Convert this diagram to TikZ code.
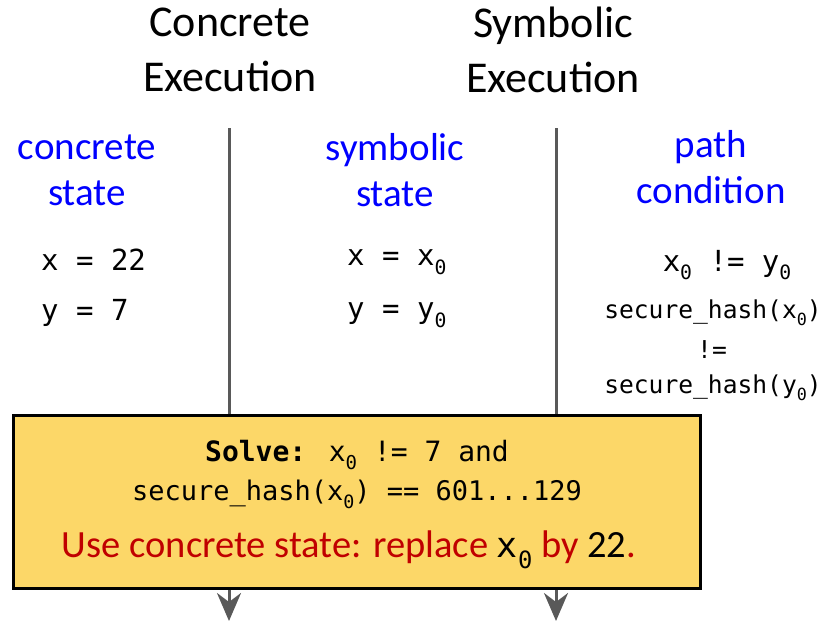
\documentclass[tikz,border=0pt]{standalone}
\usepackage{fontspec}
\setmainfont{Carlito}
\newfontfamily\monof{DejaVu Sans Mono}
\usetikzlibrary{arrows.meta}
\definecolor{gline}{HTML}{595959}
\definecolor{boxfill}{HTML}{FCD768}
\definecolor{redtxt}{HTML}{C00000}
\definecolor{bluetxt}{HTML}{0000FF}
\newcommand\zsub{\raisebox{-0.3em}{\scalebox{0.68}{0}}}
\tikzset{
  title/.style={font=\fontsize{44}{55}\selectfont, align=center, text=black, inner sep=0pt},
  lbl/.style={font=\fontsize{39}{46}\selectfont, align=center, text=bluetxt, inner sep=0pt},
  code/.style={font=\monof\fontsize{29}{34}\selectfont, inner sep=0pt, anchor=west},
  smallcode/.style={font=\monof\fontsize{24.6}{30}\selectfont, inner sep=0pt},
  flow/.style={draw=gline, line width=3pt, -{Stealth[length=28pt,width=24pt,inset=9pt]}},
  solvebox/.style={draw=black, line width=3pt, fill=boxfill, minimum width=687pt, minimum height=173pt, inner sep=0pt}
}
\begin{document}
\begin{tikzpicture}[x=1pt,y=-1pt]
\useasboundingbox (0,0) rectangle (830,622);
% titles
\node[title] (tc) at (230,50) {Concrete\\Execution};
\node[title] (ts) at (553,50) {Symbolic\\Execution};
% column labels
\node[lbl] (lc) at (87,170) {concrete\\state};
\node[lbl] (ls) at (395,170) {symbolic\\state};
\node[lbl] (lp) at (711,167) {path\\condition};
% flow lines
\coordinate (c0) at (229,128);
\coordinate (c1) at (229,621);
\coordinate (s0) at (556,128);
\coordinate (s1) at (556,621);
\draw[flow] (c0) -- (c1);
\draw[flow] (s0) -- (s1);
% concrete state
\node[code] (cx) at (41,260) {x = 22};
\node[code] (cy) at (41,313) {y = 7};
% symbolic state
\node[code] (sx) at (347,262) {x = x\zsub};
\node[code] (sy) at (347,315) {y = y\zsub};
% path condition
\node[code, anchor=center] (p1) at (727,265) {x\zsub{} != y\zsub};
\node[smallcode] (p2) at (713,313) {secure\_hash(x\zsub)};
\node[smallcode] (p3) at (712,350) {!=};
\node[smallcode] (p4) at (713,388) {secure\_hash(y\zsub)};
% solve box
\node[solvebox] (box) at (356.5,501.5) {};
\node[font=\monof\fontsize{28}{32}\selectfont, inner sep=0pt] (b1) at (357,455) {\textbf{Solve:} x\zsub{} != 7 and};
\node[font=\monof\fontsize{27}{32}\selectfont, inner sep=0pt] (b2) at (357,494) {secure\_hash(x\zsub) == 601...129};
\node[font=\fontsize{38.5}{42}\selectfont, text=redtxt, inner sep=0pt] (b3) at (349,550) {Use concrete state: replace {\color{black}\monof\fontsize{35}{38}\selectfont x\zsub} by {\color{black}22}.};
\end{tikzpicture}
\end{document}
